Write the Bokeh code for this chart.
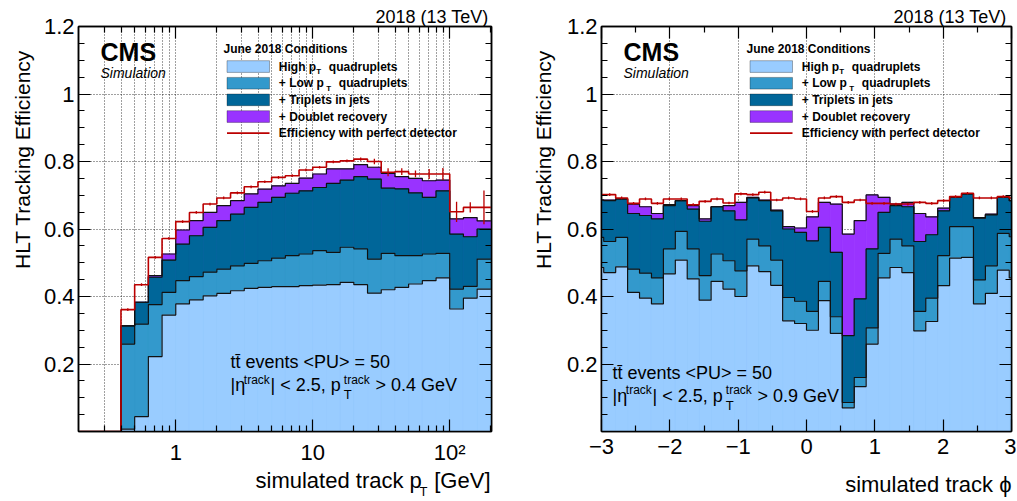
import math
from bokeh.plotting import figure
from bokeh.models import (Range1d, FixedTicker, CustomJSTickFormatter, LinearAxis,
                          LogAxis, Label, BoxAnnotation)
from bokeh.layouts import row, column
from bokeh.embed import file_html
from bokeh.resources import INLINE

# ---------------- data : efficiency vs pT (log bins of 0.1 decade) ----------------
pt_edges = [10 ** (k / 10) for k in range(-7, 24)]
pt_high = [0, 0, 0, 0.007, 0.044, 0.222, 0.345, 0.378, 0.390, 0.402, 0.409, 0.417, 0.424, 0.427,
           0.429, 0.429, 0.432, 0.434, 0.435, 0.442, 0.435, 0.410, 0.420, 0.427, 0.437, 0.447,
           0.455, 0.363, 0.395, 0.422]
pt_low = [0, 0, 0, 0.259, 0.318, 0.376, 0.412, 0.447, 0.459, 0.472, 0.481, 0.491, 0.498, 0.506,
          0.514, 0.521, 0.526, 0.536, 0.531, 0.546, 0.541, 0.511, 0.528, 0.521, 0.521, 0.526,
          0.528, 0.422, 0.430, 0.511]
pt_trip = [0, 0, 0, 0.313, 0.383, 0.457, 0.508, 0.555, 0.580, 0.605, 0.625, 0.644, 0.664, 0.679,
           0.694, 0.706, 0.713, 0.723, 0.735, 0.745, 0.755, 0.748, 0.721, 0.719, 0.707, 0.694,
           0.713, 0.585, 0.577, 0.600]
pt_doub = [0, 0, 0, 0.313, 0.383, 0.462, 0.526, 0.597, 0.625, 0.649, 0.669, 0.684, 0.704, 0.718,
           0.728, 0.735, 0.751, 0.763, 0.778, 0.778, 0.791, 0.783, 0.765, 0.755, 0.750, 0.743,
           0.745, 0.630, 0.634, 0.624]
pt_perf = [0, 0, 0, 0.361, 0.435, 0.516, 0.572, 0.622, 0.649, 0.674, 0.692, 0.707, 0.725, 0.740,
           0.753, 0.758, 0.775, 0.783, 0.799, 0.802, 0.807, 0.800, 0.768, 0.770, 0.763, 0.763,
           0.763, 0.651, 0.664, 0.664]
pt_err = [0, 0, 0, 0.004, 0.004, 0.004, 0.004, 0.004, 0.004, 0.004, 0.004, 0.004, 0.004, 0.004,
          0.004, 0.004, 0.004, 0.004, 0.004, 0.004, 0.005, 0.008, 0.012, 0.010, 0.010, 0.015,
          0.018, 0.030, 0.015, 0.050]

# ---------------- data : efficiency vs phi (36 bins over [-pi, pi]) ----------------
phi_edges = [-math.pi + k * math.pi / 18 for k in range(37)]
phi_high = [0.486, 0.471, 0.488, 0.412, 0.395, 0.378, 0.467, 0.508, 0.452, 0.389, 0.445, 0.422,
            0.400, 0.491, 0.474, 0.433, 0.328, 0.320, 0.300, 0.388, 0.291, 0.070, 0.133, 0.259,
            0.455, 0.486, 0.471, 0.298, 0.326, 0.432, 0.514, 0.516, 0.378, 0.409, 0.478, 0.455]
phi_low = [0.575, 0.563, 0.575, 0.481, 0.469, 0.455, 0.541, 0.593, 0.541, 0.462, 0.526, 0.506,
           0.476, 0.570, 0.550, 0.508, 0.397, 0.386, 0.356, 0.445, 0.340, 0.086, 0.160, 0.307,
           0.528, 0.570, 0.550, 0.356, 0.395, 0.521, 0.607, 0.607, 0.449, 0.491, 0.587, 0.577]
phi_trip = [0.686, 0.684, 0.689, 0.646, 0.640, 0.630, 0.669, 0.684, 0.659, 0.623, 0.666, 0.654,
            0.627, 0.692, 0.684, 0.654, 0.600, 0.590, 0.565, 0.605, 0.531, 0.284, 0.393, 0.541,
            0.649, 0.669, 0.666, 0.563, 0.583, 0.654, 0.694, 0.704, 0.632, 0.642, 0.694, 0.684]
phi_doub = [0.686, 0.686, 0.689, 0.674, 0.666, 0.646, 0.672, 0.684, 0.669, 0.630, 0.666, 0.669,
            0.679, 0.694, 0.686, 0.656, 0.607, 0.603, 0.636, 0.679, 0.674, 0.585, 0.625, 0.701,
            0.694, 0.674, 0.679, 0.646, 0.636, 0.662, 0.696, 0.704, 0.634, 0.644, 0.694, 0.684]
phi_perf = [0.702, 0.702, 0.692, 0.676, 0.689, 0.676, 0.689, 0.689, 0.672, 0.682, 0.689, 0.677,
            0.704, 0.702, 0.709, 0.686, 0.692, 0.689, 0.652, 0.692, 0.696, 0.679, 0.686, 0.676,
            0.676, 0.674, 0.674, 0.679, 0.676, 0.684, 0.696, 0.706, 0.692, 0.692, 0.696, 0.692]
phi_err = [0.004] * 36

# ---------------- labels ----------------
legend_header = "June 2018 Conditions"
series_names = ["High p", "+ Low p", "+ Triplets in jets", "+ Doublet recovery",
                "Efficiency with perfect detector"]
y_title = "HLT Tracking Efficiency"
energy = "2018 (13 TeV)"
y_ticks = [0.2, 0.4, 0.6, 0.8, 1.0, 1.2]
pt_major = [1, 10, 100]
pt_minor = [0.3, 0.4, 0.5, 0.6, 0.7, 0.8, 0.9, 2, 3, 4, 5, 6, 7, 8, 9,
            20, 30, 40, 50, 60, 70, 80, 90, 200]
phi_major = [-3, -2, -1, 0, 1, 2, 3]
phi_minor = [-2.5, -1.5, -0.5, 0.5, 1.5, 2.5]

FONT = "Liberation Sans"
C_HIGH, C_LOW, C_TRIP, C_DOUB, C_PERF = "#99ccff", "#3399cc", "#006699", "#9933ff", "#bb0000"
FH = 405          # frame height
MAIN_TOP, MAIN_BOT, BOT_H = 26, 34, 34
MAIN_H = MAIN_TOP + FH + MAIN_BOT
MID = 0.35        # distance baseline -> middle of capitals, in em


def style_axis(ax, labels=True, standoff=5):
    ax.axis_line_color = "black"
    ax.axis_line_width = 1.5
    ax.major_tick_line_color = "black"
    ax.minor_tick_line_color = "black"
    ax.major_tick_line_width = 1.2
    ax.minor_tick_line_width = 1.2
    ax.major_tick_in = 12
    ax.major_tick_out = 0
    ax.minor_tick_in = 6
    ax.minor_tick_out = 0
    ax.major_label_text_font = FONT
    ax.major_label_text_color = "black"
    if labels:
        ax.major_label_text_font_size = "22px"
        ax.major_label_standoff = standoff
    else:
        ax.major_label_text_font_size = "1px"
        ax.major_label_text_alpha = 0
        ax.major_label_standoff = 0


def lab(p, x, y, text, size, style="normal", align="left", vertical=False, units="screen"):
    """(x, y) is the point on the alphabetic baseline, y pointing up."""
    if vertical:
        x, angle = x - MID * size, math.pi / 2
    else:
        y, angle = y + MID * size, 0.0
    p.add_layout(Label(x=x, y=y, x_units=units, y_units=units, text=text,
                       text_font=FONT, text_font_size=f"{size}px", text_font_style=style,
                       text_align=align, text_baseline="middle", angle=angle,
                       text_color="black"))


def txt(p, s, t, text, size, style="bold", align="left"):
    # s: px from frame left, t: px from frame top (baseline)
    lab(p, s, FH - t, text, size, style, align)


def box(p, s0, s1, t0, t1, color, line=True):
    p.add_layout(BoxAnnotation(left=s0, right=s1, top=FH - t0, bottom=FH - t1,
                               left_units="screen", right_units="screen",
                               top_units="screen", bottom_units="screen",
                               fill_color=color, fill_alpha=1.0,
                               line_color="black" if line else None, line_width=1,
                               level="overlay"))


def strip(w, h):
    s = figure(width=w, height=h, x_range=Range1d(0, w), y_range=Range1d(0, h),
               min_border=0, x_axis_location=None, y_axis_location=None,
               output_backend="svg", toolbar_location=None)
    s.outline_line_color = None
    s.grid.visible = False
    s.background_fill_color = "white"
    s.border_fill_color = "white"
    return s


def make_fig(xtype, xr, fw, mbl, mbr, energy_offset):
    p = figure(x_axis_type=xtype, x_range=xr, y_range=Range1d(0, 1.2),
               frame_width=fw, frame_height=FH, min_border_left=mbl, min_border_right=mbr,
               min_border_top=MAIN_TOP, min_border_bottom=MAIN_BOT,
               output_backend="svg", toolbar_location=None)
    p.title.text = energy
    p.title.align = "right"
    p.title.text_font = FONT
    p.title.text_font_size = "18px"
    p.title.text_font_style = "normal"
    p.title.text_color = "black"
    p.title.standoff = 0
    p.title.offset = energy_offset
    p.background_fill_color = "white"
    p.border_fill_color = "white"
    p.outline_line_color = "black"
    p.outline_line_width = 1.5
    p.grid.grid_line_color = "black"
    p.grid.grid_line_dash = "1 2"
    p.grid.grid_line_alpha = 0.75
    p.grid.grid_line_width = 1
    p.ygrid.ticker = FixedTicker(ticks=[0.2, 0.4, 0.6, 0.8, 1.0])
    yfmt = CustomJSTickFormatter(code="return Math.abs(tick-1)<1e-9 ? '1' : tick.toFixed(1);")
    yt = FixedTicker(ticks=y_ticks, minor_ticks=[i * 0.05 for i in range(25)])
    p.yaxis.ticker = yt
    p.yaxis.formatter = yfmt
    style_axis(p.yaxis[0], True, 4)
    ra = LinearAxis(ticker=yt)
    style_axis(ra, False)
    p.add_layout(ra, "right")
    return p


def draw_hists(p, edges, layers, perf, err, logx):
    left, right = edges[:-1], edges[1:]
    for vals, col in layers[::-1]:
        p.quad(left=left, right=right, bottom=0, top=vals, fill_color=col, line_color=col,
               line_width=0.8)
    for vals, col in layers[::-1]:
        p.step(x=edges, y=list(vals) + [vals[-1]], mode="after", line_color="#111111",
               line_width=1.2)
    p.step(x=edges, y=list(perf) + [perf[-1]], mode="after", line_color=C_PERF, line_width=1.6)
    cen = [math.sqrt(a * b) if logx else (a + b) / 2 for a, b in zip(left, right)]
    sel = [i for i in range(len(perf)) if perf[i] > 0]
    p.segment(x0=[cen[i] for i in sel], x1=[cen[i] for i in sel],
              y0=[perf[i] - err[i] for i in sel], y1=[perf[i] + err[i] for i in sel],
              line_color=C_PERF, line_width=1.3)


def decorate(p, tt_s, tt_t, cut_text):
    txt(p, 22, 34, "CMS", 25)
    txt(p, 22, 51, "Simulation", 14, style="italic")
    txt(p, 145, 27, legend_header, 12)
    tops = [34.2, 50.9, 67.5, 84.2]
    cols = [C_HIGH, C_LOW, C_TRIP, C_DOUB]
    for tp, c in zip(tops, cols):
        box(p, 148.5, 191, tp, tp + 11.7, c)
    box(p, 148.5, 191, 105.8, 107.4, C_PERF, line=False)
    x0 = 200.3
    b = [tp + 10.2 for tp in tops]
    txt(p, x0, b[0], series_names[0], 12)
    txt(p, x0 + 37.5, b[0] + 3.5, "T", 8)
    txt(p, x0 + 50, b[0], "quadruplets", 12)
    txt(p, x0, b[1], series_names[1], 12)
    txt(p, x0 + 47.5, b[1] + 3.5, "T", 8)
    txt(p, x0 + 60, b[1], "quadruplets", 12)
    txt(p, x0, b[2], series_names[2], 12)
    txt(p, x0, b[3], series_names[3], 12)
    txt(p, x0, 110.8, series_names[4], 12)
    txt(p, tt_s, tt_t, "tt\u0304 events <PU> = 50", 18, style="normal")
    t2 = tt_t + 23
    txt(p, tt_s, t2, "|\u03b7", 18, style="normal")
    txt(p, tt_s + 13.3, t2 - 7.4, "track", 12, style="normal")
    txt(p, tt_s + 40, t2, "| < 2.5, p", 18, style="normal")
    txt(p, tt_s + 113.3, t2 + 7.6, "T", 13, style="normal")
    txt(p, tt_s + 113.3, t2 - 7.4, "track", 12, style="normal")
    txt(p, tt_s + 145, t2, cut_text, 18, style="normal")


# ---------------- left panel ----------------
FW1 = 413
p1 = make_fig("log", Range1d(10 ** -0.71, 10 ** 2.305), FW1, 38, 20, 3)
xt1 = FixedTicker(ticks=pt_major, minor_ticks=pt_minor)
p1.xaxis.ticker = xt1
p1.xaxis.formatter = CustomJSTickFormatter(
    code="return tick > 50 ? '10\u00b2' : String(Math.round(tick));")
style_axis(p1.xaxis[0], True, 8)
ta1 = LogAxis(ticker=xt1)
style_axis(ta1, False)
p1.add_layout(ta1, "above")
p1.xgrid.ticker = FixedTicker(ticks=sorted(pt_major + pt_minor[:-1]))
draw_hists(p1, pt_edges, [(pt_high, C_HIGH), (pt_low, C_LOW), (pt_trip, C_TRIP), (pt_doub, C_DOUB)],
           pt_perf, pt_err, True)
decorate(p1, 152, 341.9, "> 0.4 GeV")

# ---------------- right panel ----------------
FW2 = 410
p2 = make_fig("linear", Range1d(-3, 3), FW2, 45, 5, 5)
xt2 = FixedTicker(ticks=phi_major, minor_ticks=phi_minor)
p2.xaxis.ticker = xt2
p2.xaxis.formatter = CustomJSTickFormatter(
    code="return tick < 0 ? '\u2212' + Math.abs(tick) : String(tick);")
style_axis(p2.xaxis[0], True, 7)
ta2 = LinearAxis(ticker=xt2)
style_axis(ta2, False)
p2.add_layout(ta2, "above")
p2.xgrid.ticker = FixedTicker(ticks=[-2, -1, 0, 1, 2])
draw_hists(p2, phi_edges, [(phi_high, C_HIGH), (phi_low, C_LOW), (phi_trip, C_TRIP), (phi_doub, C_DOUB)],
           phi_perf, phi_err, False)
decorate(p2, 11, 352.5, "> 0.9 GeV")

# ---------------- text strips around the panels ----------------
TOTAL_W = 40 + (38 + FW1 + 20) + 45 + (45 + FW2 + 5)
BOT_Y0 = MAIN_H                  # page y of the bottom strip's top edge

yl1 = strip(40, MAIN_H)
lab(yl1, 29.3, MAIN_H - 27, y_title, 21, align="right", vertical=True, units="data")
yl2 = strip(45, MAIN_H)
lab(yl2, 39, MAIN_H - 27, y_title, 21, align="right", vertical=True, units="data")

bot = strip(TOTAL_W, BOT_H)
lab(bot, 255, BOT_Y0 + BOT_H - 486, "simulated track p", 22, units="data")
lab(bot, 419, BOT_Y0 + BOT_H - 494, "T", 13, units="data")
lab(bot, 490, BOT_Y0 + BOT_H - 486, "[GeV]", 22, units="data", align="right")
lab(bot, 1011, BOT_Y0 + BOT_H - 490, "simulated track \u03d5", 22, units="data", align="right")

layout = column(row(yl1, p1, yl2, p2), bot)
open("out.html", "w").write(file_html(layout, INLINE))
